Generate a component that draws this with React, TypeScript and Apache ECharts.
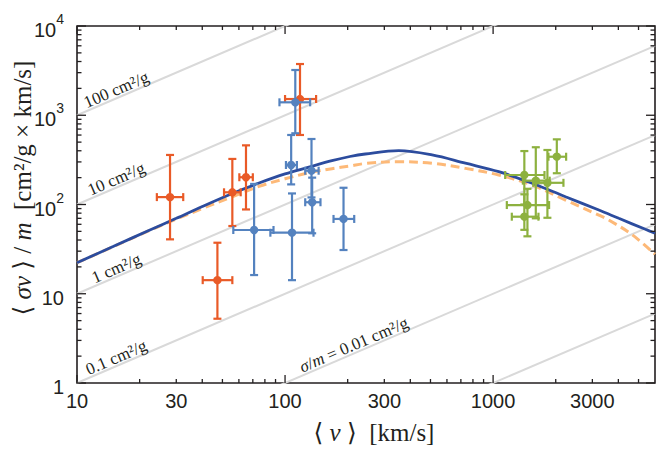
import React, { useEffect, useRef } from 'react';
import * as echarts from 'echarts';

// ---------- data ----------
const X_MIN = 10;
const X_MAX = 6000;
const Y_MIN = 1;
const Y_MAX = 10000;

const xTickLabels = [10, 30, 100, 300, 1000, 3000];
const xMajorTicks = [10, 100, 1000];
const xMinorTicks = [20, 30, 40, 50, 60, 70, 80, 90, 200, 300, 400, 500, 600, 700, 800, 900, 2000, 3000, 4000, 5000];
const yMajorTicks = [1, 10, 100, 1000, 10000];
const yMinorTicks = [2, 3, 4, 5, 6, 7, 8, 9, 20, 30, 40, 50, 60, 70, 80, 90, 200, 300, 400, 500, 600, 700, 800, 900, 2000, 3000, 4000, 5000, 6000, 7000, 8000, 9000];

// constant cross-section lines sigma/m [cm^2/g]
const sigmaValues = [100, 10, 1, 0.1, 0.01, 0.001];
const sigmaLabelTexts = ['100 cm²/g', '10 cm²/g', '1 cm²/g', '0.1 cm²/g', '{i|σ}/{i|m} = 0.01 cm²/g'];
const sigmaLabelValues = [100, 10, 1, 0.1, 0.01];
const sigmaLabelAt = [16, 16, 16, 16, 222];

// axis titles
const xTitle = '{n|⟨ }{i|v}{n| ⟩  [km/s]}';
const yTitle = '{n|⟨ }{i|σv}{n| ⟩ / }{i|m}{n|  [cm²/g × km/s]}';

// model curves
const solidV = [10, 15, 22.4, 30, 40, 55.8, 75, 100, 130, 168, 205, 243, 352, 509, 736, 1064, 1540, 2228, 3222, 4018, 5395, 6000];
const solidY = [22.3, 34, 51.8, 70, 95, 133, 174, 220, 262, 310, 345, 368, 401, 359, 290, 233, 173, 122, 86.7, 70, 52.7, 47.6];
const dashedV = [10, 15, 22.4, 30, 40, 55.8, 75, 100, 130, 168, 205, 243, 352, 509, 736, 1064, 1540, 2228, 3222, 3597, 4656, 6000];
const dashedY = [22.3, 33.8, 51.3, 68.5, 90, 122, 160, 194, 226, 252, 270, 288, 302, 290, 254, 214, 165, 112, 76, 67, 46, 27.7];

// data points: [v, y, vLow, vHigh, yLow, yHigh]
const redPoints = [
  [28, 121, 24.2, 32.4, 40.7, 359],
  [55.8, 137, 50.9, 61.2, 57.4, 324],
  [64.9, 202, 60.3, 70, 88, 460],
  [47.3, 14.2, 40.2, 55.8, 5.25, 37.3],
  [118, 1520, 100, 141, 601, 3750],
];
const bluePoints = [
  [112, 1396, 94, 132, 628, 3213],
  [107, 277, 101, 114, 168, 601],
  [108, 48.3, 85, 137, 14.2, 133],
  [71, 51.8, 56.4, 88, 16.2, 170],
  [134, 239, 125, 145, 120, 542],
  [135, 106, 125, 148, 47.6, 200],
  [191, 68.9, 171, 215, 30.9, 154],
];
const greenPoints = [
  [1413, 214, 1143, 1766, 100, 397],
  [1604, 185, 1390, 1870, 70, 438],
  [2024, 343, 1845, 2244, 224, 537],
  [1824, 175, 1560, 2178, 71, 408],
  [1462, 98.6, 1164, 1858, 44, 150],
  [1413, 73, 1230, 1652, 52, 130],
];

// ---------- styles ----------
const RED = '#E95A27';
const BLUE = '#5482BF';
const GREEN = '#8DB13F';
const CURVE_BLUE = '#2C4C9E';
const CURVE_ORANGE = '#FDB978';
const GRAY = '#D9D9D9';
const AXIS = '#231F20';
const SANS = '"Liberation Sans", Arial, sans-serif';
const SERIF = '"Liberation Serif", "DejaVu Serif", serif';

function errorBarSeries(name: string, data: number[][], color: string) {
  return {
    type: 'custom',
    name,
    z: 10,
    encode: { x: 0, y: 1 },
    data,
    renderItem: (params: any, api: any) => {
      const v = api.value(0), y = api.value(1);
      const c = api.coord([v, y]);
      const l = api.coord([api.value(2), y]);
      const r = api.coord([api.value(3), y]);
      const b = api.coord([v, api.value(4)]);
      const t = api.coord([v, api.value(5)]);
      const cap = 4;
      const st = { stroke: color, lineWidth: 2.2, fill: null };
      return {
        type: 'group',
        children: [
          { type: 'line', shape: { x1: l[0], y1: c[1], x2: r[0], y2: c[1] }, style: st },
          { type: 'line', shape: { x1: c[0], y1: t[1], x2: c[0], y2: b[1] }, style: st },
          { type: 'line', shape: { x1: l[0], y1: c[1] - cap, x2: l[0], y2: c[1] + cap }, style: st },
          { type: 'line', shape: { x1: r[0], y1: c[1] - cap, x2: r[0], y2: c[1] + cap }, style: st },
          { type: 'line', shape: { x1: c[0] - cap, y1: t[1], x2: c[0] + cap, y2: t[1] }, style: st },
          { type: 'line', shape: { x1: c[0] - cap, y1: b[1], x2: c[0] + cap, y2: b[1] }, style: st },
          { type: 'circle', shape: { cx: c[0], cy: c[1], r: 4.2 }, style: { fill: color } },
        ],
      };
    },
  };
}

export default function App() {
  const ref = useRef<HTMLDivElement>(null);

  useEffect(() => {
    if (!ref.current) return;
    const chart = echarts.init(ref.current, undefined, { renderer: 'svg' });

    const series: any[] = [];

    // gray constant sigma/m lines
    sigmaValues.forEach((s) => {
      series.push({
        type: 'line',
        silent: true,
        symbol: 'none',
        z: 1,
        clip: true,
        lineStyle: { color: GRAY, width: 2 },
        data: [
          [X_MIN, s * X_MIN],
          [X_MAX, s * X_MAX],
        ],
      });
    });

    // labels along the gray lines
    series.push({
      type: 'custom',
      z: 2,
      silent: true,
      encode: { x: 0, y: 1 },
      data: sigmaLabelValues.map((s, i) => [sigmaLabelAt[i], s * sigmaLabelAt[i], i]),
      renderItem: (params: any, api: any) => {
        const v = api.value(0), y = api.value(1);
        const idx = api.value(2);
        const p = api.coord([v, y]);
        const q = api.coord([v * 2, y * 2]);
        const ang = Math.atan2(-(q[1] - p[1]), q[0] - p[0]);
        const d = 8;
        const cx = p[0] - d * Math.sin(ang);
        const cy = p[1] - d * Math.cos(ang);
        return {
          type: 'text',
          x: cx,
          y: cy,
          rotation: ang,
          style: {
            text: sigmaLabelTexts[idx],
            x: 0,
            y: 0,
            align: 'center',
            verticalAlign: 'middle',
            fontSize: 17,
            fontFamily: SERIF,
            fill: '#231F20',
            rich: { i: { fontStyle: 'italic', fontSize: 17, fontFamily: SERIF, fill: '#231F20' } },
          },
        };
      },
    });

    // model curves
    series.push({
      type: 'line',
      symbol: 'none',
      z: 4,
      smooth: 0.35,
      lineStyle: { color: CURVE_ORANGE, width: 3, type: [9, 5] },
      data: dashedV.map((v, i) => [v, dashedY[i]]),
    });
    series.push({
      type: 'line',
      symbol: 'none',
      z: 5,
      smooth: 0.35,
      lineStyle: { color: CURVE_BLUE, width: 2.8 },
      data: solidV.map((v, i) => [v, solidY[i]]),
    });

    series.push(errorBarSeries('red', redPoints, RED));
    series.push(errorBarSeries('blue', bluePoints, BLUE));
    series.push(errorBarSeries('green', greenPoints, GREEN));

    // ticks (inward, on all four sides)
    const xTicks = [
      ...xMajorTicks.map((v) => [v, Y_MIN, 8]),
      ...xMinorTicks.map((v) => [v, Y_MIN, 4]),
    ];
    const yTicks = [
      ...yMajorTicks.map((v) => [X_MIN, v, 9]),
      ...yMinorTicks.map((v) => [X_MIN, v, 4.5]),
    ];
    const tickStyle = { stroke: AXIS, lineWidth: 1.3 };
    series.push({
      type: 'custom',
      silent: true,
      z: 20,
      clip: false,
      encode: { x: 0, y: 1 },
      data: xTicks,
      renderItem: (params: any, api: any) => {
        const v = api.value(0);
        const len = api.value(2);
        const b = api.coord([v, Y_MIN]);
        const t = api.coord([v, Y_MAX]);
        return {
          type: 'group',
          children: [
            { type: 'line', shape: { x1: b[0], y1: b[1], x2: b[0], y2: b[1] - len }, style: tickStyle },
            { type: 'line', shape: { x1: t[0], y1: t[1], x2: t[0], y2: t[1] + len }, style: tickStyle },
          ],
        };
      },
    });
    series.push({
      type: 'custom',
      silent: true,
      z: 20,
      clip: false,
      encode: { x: 0, y: 1 },
      data: yTicks,
      renderItem: (params: any, api: any) => {
        const v = api.value(1);
        const len = api.value(2);
        const l = api.coord([X_MIN, v]);
        const r = api.coord([X_MAX, v]);
        return {
          type: 'group',
          children: [
            { type: 'line', shape: { x1: l[0], y1: l[1], x2: l[0] + len, y2: l[1] }, style: tickStyle },
            { type: 'line', shape: { x1: r[0], y1: r[1], x2: r[0] - len, y2: r[1] }, style: tickStyle },
          ],
        };
      },
    });

    // x tick labels
    series.push({
      type: 'custom',
      silent: true,
      z: 20,
      clip: false,
      encode: { x: 0, y: 1 },
      data: xTickLabels.map((v) => [v, Y_MIN]),
      renderItem: (params: any, api: any) => {
        const v = api.value(0);
        const p = api.coord([v, Y_MIN]);
        return {
          type: 'text',
          x: p[0],
          y: p[1] + 18,
          style: {
            text: String(v),
            x: 0,
            y: 0,
            align: 'center',
            verticalAlign: 'middle',
            fontSize: 20,
            fontFamily: SANS,
            fill: '#231F20',
          },
        };
      },
    });

    const titleRich = {
      i: { fontStyle: 'italic', fontSize: 25, fontFamily: SERIF, fill: '#231F20' },
      n: { fontSize: 25, fontFamily: SERIF, fill: '#231F20' },
    };

    const option: any = {
      animation: false,
      backgroundColor: '#ffffff',
      grid: {
        left: 77,
        right: 9,
        top: 26,
        bottom: 68,
        show: true,
        borderColor: AXIS,
        borderWidth: 1.6,
        backgroundColor: 'transparent',
        containLabel: false,
        outerBoundsMode: 'none',
      },
      graphic: [
        {
          type: 'text',
          x: 22,
          y: 188,
          rotation: Math.PI / 2,
          silent: true,
          style: {
            text: yTitle,
            x: 0,
            y: 0,
            align: 'center',
            verticalAlign: 'middle',
            fontSize: 25,
            fontFamily: SERIF,
            fill: '#231F20',
            rich: titleRich,
          },
        },
        {
          type: 'text',
          x: 374,
          y: 432,
          silent: true,
          style: {
            text: xTitle,
            x: 0,
            y: 0,
            align: 'center',
            verticalAlign: 'middle',
            fontSize: 25,
            fontFamily: SERIF,
            fill: '#231F20',
            rich: titleRich,
          },
        },
      ],
      xAxis: {
        type: 'log',
        logBase: 10,
        min: X_MIN,
        max: X_MAX,
        axisLine: { show: false },
        axisTick: { show: false },
        axisLabel: { show: false },
        splitLine: { show: false },
      },
      yAxis: {
        type: 'log',
        logBase: 10,
        min: Y_MIN,
        max: Y_MAX,
        axisLine: { show: false },
        axisTick: { show: false },
        splitLine: { show: false },
        axisLabel: {
          margin: 13,
          formatter: (val: number) => {
            const e = Math.round(Math.log10(val));
            if (e === 0) return '{b|1}';
            if (e === 1) return '{b|10}';
            return '{b|10}{s|' + e + '}';
          },
          rich: {
            b: { fontSize: 20, fontFamily: SANS, color: '#231F20', lineHeight: 28, verticalAlign: 'bottom' },
            s: { fontSize: 14, fontFamily: SANS, color: '#231F20', lineHeight: 15, verticalAlign: 'top' },
          },
        },
      },
      series,
    };

    chart.setOption(option);
    return () => chart.dispose();
  }, []);

  return (
    <div
      ref={ref}
      style={{ position: 'fixed', left: 0, top: 0, width: 664, height: 451, background: '#fff' }}
    />
  );
}
